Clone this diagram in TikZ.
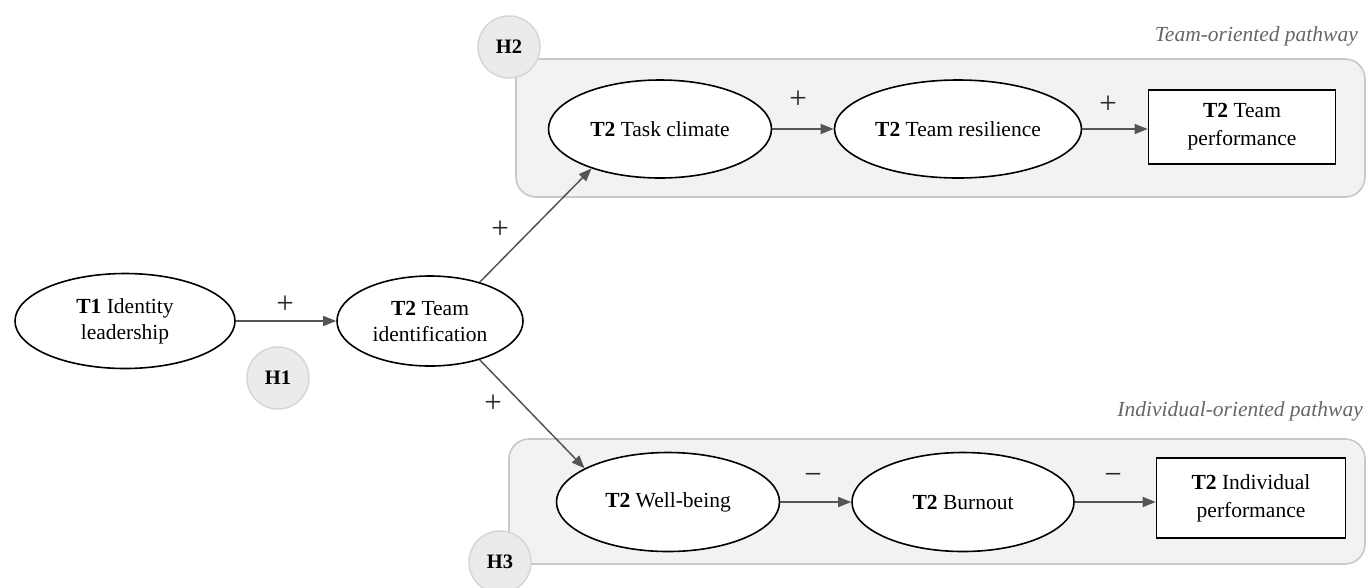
\documentclass[tikz,border=0pt]{standalone}
\usepackage{fontspec}
\setmainfont{Liberation Serif}
\usetikzlibrary{arrows.meta,shapes.geometric}
\definecolor{boxfill}{HTML}{F2F2F2}
\definecolor{boxline}{HTML}{C8C8C8}
\definecolor{hfill}{HTML}{EBEBEB}
\definecolor{hline}{HTML}{D6D6D6}
\definecolor{arrowcol}{HTML}{555555}
\definecolor{pathcol}{HTML}{666666}
\tikzset{
  construct/.style={ellipse, draw=black, line width=1.6pt, fill=white, inner sep=0pt, align=center,
    font=\fontsize{21.5}{26}\selectfont},
  outcome/.style={rectangle, draw=black, line width=1.6pt, fill=white, inner sep=0pt, align=center,
    font=\fontsize{21.5}{28}\selectfont},
  hypo/.style={circle, draw=hline, line width=1.5pt, fill=hfill, inner sep=0pt, minimum size=62pt,
    font=\bfseries\fontsize{20.5}{24}\selectfont},
  pathbox/.style={draw=boxline, line width=1.6pt, fill=boxfill, rounded corners=20pt},
  pathlabel/.style={anchor=east, text=pathcol, font=\itshape\fontsize{21.5}{24}\selectfont, inner sep=0pt},
  conn/.style={draw=arrowcol, line width=1.5pt, -{Triangle[length=13pt,width=10pt]}},
  sign/.style={font=\fontsize{31}{34}\selectfont, text=black!85, inner sep=0pt},
}
\begin{document}
\begin{tikzpicture}[x=1pt,y=-1pt]
\useasboundingbox (0,0) rectangle (1367,587);
% pathway boxes
\draw[pathbox] (516,59) rectangle (1365,197);
\draw[pathbox] (509,439) rectangle (1365,564);
\node[pathlabel] (teamlab) at (1358,36) {Team-oriented pathway};
\node[pathlabel] (indlab) at (1363,411) {Individual-oriented pathway};
% hypothesis circles
\node[hypo] (h2) at (509,47) {H2};
\node[hypo] (h3) at (500,562) {H3};
\node[hypo] (h1) at (278,378) {H1};
% constructs
\node[construct, minimum width=220pt, minimum height=95pt] (lead) at (125,321) {\textbf{T1} Identity\\leadership};
\node[construct, minimum width=186pt, minimum height=90pt] (ident) at (430,321) {\textbf{T2} Team\\identification};
\node[construct, minimum width=223pt, minimum height=98pt] (task) at (660,129) {\textbf{T2} Task climate};
\node[construct, minimum width=247pt, minimum height=98pt] (res) at (958,129) {\textbf{T2} Team resilience};
\node[outcome, minimum width=187pt, minimum height=74pt] (tperf) at (1242,127) {\textbf{T2} Team\\performance};
\node[construct, minimum width=223pt, minimum height=99pt] (well) at (668,502) {\textbf{T2} Well-being};
\node[construct, minimum width=222pt, minimum height=99pt] (burn) at (963,502) {\textbf{T2} Burnout};
\node[outcome, minimum width=189pt, minimum height=80pt] (iperf) at (1251,498) {\textbf{T2} Individual\\performance};
% connectors
\draw[conn] (lead.east) -- (ident.west);
\draw[conn] (ident.38) -- (task.210);
\draw[conn] (ident.-38) -- (well.158);
\draw[conn] (task.east) -- (res.west);
\draw[conn] (res.east) -- (res.east -| tperf.west);
\draw[conn] (well.east) -- (burn.west);
\draw[conn] (burn.east) -- (burn.east -| iperf.west);
% signs
\node[sign] (s1) at (285,305) {+};
\node[sign] (s2) at (500,230) {+};
\node[sign] (s3) at (493,404) {+};
\node[sign] (s4) at (798,100) {+};
\node[sign] (s5) at (1108,105) {+};
\node[sign] (s6) at (813,479) {−};
\node[sign] (s7) at (1113,479) {−};
\end{tikzpicture}
\end{document}
